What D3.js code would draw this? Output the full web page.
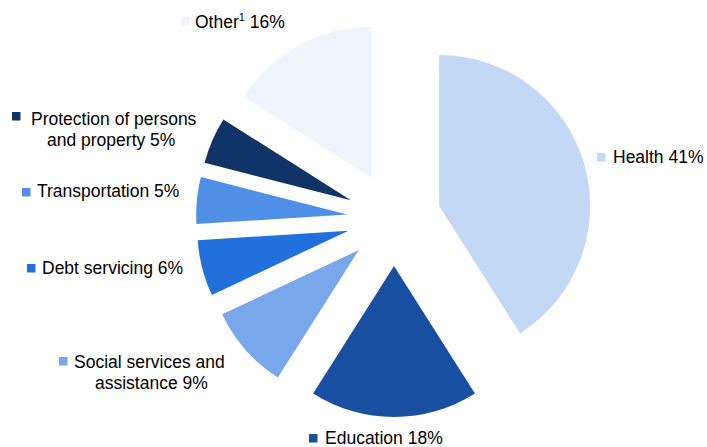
<!DOCTYPE html>
<html>
<head>
<meta charset="utf-8">
<script src="https://cdn.jsdelivr.net/npm/d3@7/dist/d3.min.js"></script>
<style>
  html, body { margin: 0; padding: 0; background: #ffffff; }
  svg { display: block; }
  text { font-family: "Liberation Sans", Arial, sans-serif; font-size: 17.5px; fill: #000; }
</style>
</head>
<body>
<script>
// Spending shares by category, clockwise from 12 o'clock
const categories = ["Health", "Education", "Social services and assistance", "Debt servicing",
                    "Transportation", "Protection of persons and property", "Other"];
const shares = [41, 18, 9, 6, 5, 5, 16];
const colors = ["#c2d8f5", "#184fa1", "#78a8eb", "#2170db", "#4f8fe6", "#113468", "#eef5fd"];

// Label lines per category (superscript handled separately for "Other")
const labelLines = [
  ["Health 41%"],
  ["Education 18%"],
  ["Social services and", "assistance 9%"],
  ["Debt servicing 6%"],
  ["Transportation 5%"],
  ["Protection of persons", "and property 5%"],
  ["Other", "1", " 16%"]
];

const W = 707, H = 447;
const cx = 394, cy = 219, R = 151, explode = 47;

const svg = d3.select("body").append("svg").attr("width", W).attr("height", H);

const pie = d3.pie().sort(null).value(d => d);
const arc = d3.arc().innerRadius(0).outerRadius(R);
const arcs = pie(shares);

// Every slice is pulled out from the centre along its own bisector
const g = svg.append("g").attr("transform", `translate(${cx},${cy})`);
g.selectAll("path")
  .data(arcs)
  .join("path")
  .attr("d", arc)
  .attr("fill", (d, i) => colors[i])
  .attr("transform", d => {
    const a = (d.startAngle + d.endAngle) / 2;
    return `translate(${explode * Math.sin(a)},${-explode * Math.cos(a)})`;
  });

// Legend-style labels placed around the pie
const labelPos = [
  { sx: 597, sy: 153, tx: 613, ty: 163, lines: [0] },
  { sx: 309, sy: 434, tx: 325, ty: 444, lines: [0] },
  { sx: 59, sy: 357, tx: 74, ty: 368, lines: [0, 95] },
  { sx: 27, sy: 264, tx: 42, ty: 274, lines: [0] },
  { sx: 22, sy: 188, tx: 37, ty: 197, lines: [0] },
  { sx: 12, sy: 112, tx: 31, ty: 125, lines: [0, 47] },
  { sx: 181, sy: 17, tx: 195, ty: 28, lines: [0] }
];

labelPos.forEach((p, i) => {
  svg.append("rect")
    .attr("x", p.sx).attr("y", p.sy)
    .attr("width", 8.5).attr("height", 8.5)
    .attr("fill", colors[i]);
  if (i === 6) {
    const t = svg.append("text").attr("x", p.tx).attr("y", p.ty);
    t.append("tspan").text(labelLines[i][0]);
    t.append("tspan").attr("dy", -7).style("font-size", "11px").text(labelLines[i][1]);
    t.append("tspan").attr("dy", 7).text(labelLines[i][2]);
  } else {
    labelLines[i].forEach((line, k) => {
      svg.append("text")
        .attr("x", k === 0 ? p.tx : p.lines[k])
        .attr("y", p.ty + k * 21)
        .text(line);
    });
  }
});
</script>
</body>
</html>
